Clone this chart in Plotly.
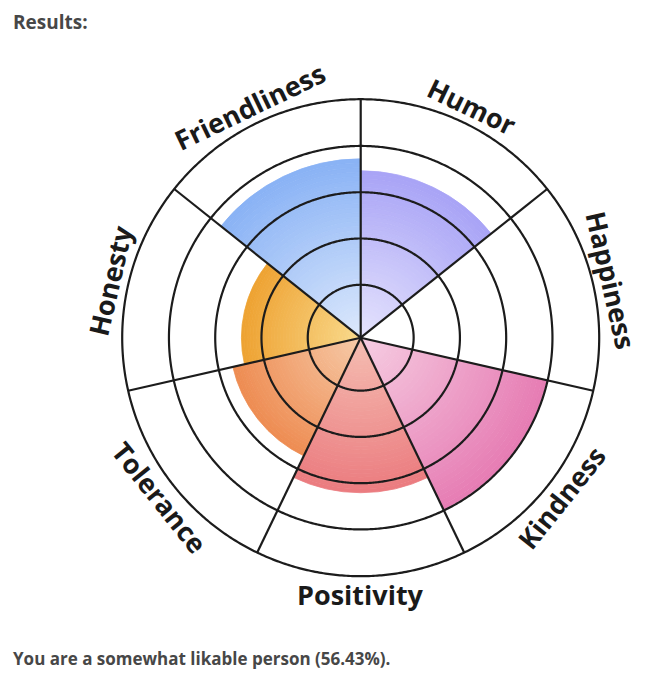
import numpy as np
import plotly.graph_objects as go

# ---------------- data ----------------
categories = ["Humor", "Happiness", "Kindness", "Positivity", "Tolerance", "Honesty", "Friendliness"]
scores = [3.5, 0.0, 4.0, 3.25, 2.75, 2.5, 3.75]
max_score = 5
title_text = "Results:"
summary_template = "You are a somewhat likable person ({:.2f}%)."

# ---------------- style ----------------
inner_colors = ["#e6e4fd", "#f7e9a8", "#f6cde2", "#f5beb2", "#f6caa8", "#f9da8c", "#dde9fc"]
outer_colors = ["#a8a3f6", "#f0d060", "#e67cb3", "#eb7b7f", "#ee8c52", "#eea232", "#89b2f5"]
label_angles = [25.7, 77.1, -51.4, 0.0, 51.4, -77.1, -25.7]
grid_rings = [1.11, 2.08, 3.05, 4.02, 5.0]
grid_color = "#1c1c1c"
grid_width = 2.2

OFF = 8                      # default page body margin
W, H = 670 - OFF, 680 - OFF
CX, CY, RAD = 360.7 - OFF, 337.7 - OFF, 238.5   # RAD = pixel radius of max_score
R_PAD = 1.03                 # extra radial room so the outer ring is not clipped
LABEL_R = 257
N_SLICES = 40
TEXT_X = 11


def hex2rgb(h):
    h = h.lstrip("#")
    return np.array([int(h[i:i + 2], 16) for i in (0, 2, 4)], dtype=float)


def mix(c1, c2, t):
    a, b = hex2rgb(c1), hex2rgb(c2)
    c = a + (b - a) * t
    return "rgb({:.0f},{:.0f},{:.0f})".format(*c)


n = len(categories)
sector = 360.0 / n
fig = go.Figure()

# gradient bars: each bar split into thin stacked slices
for i, (cat, v) in enumerate(zip(categories, scores)):
    if v <= 0:
        continue
    step = v / N_SLICES
    bases = [step * k for k in range(N_SLICES)]
    cols = [mix(inner_colors[i], outer_colors[i], (k + 0.5) / N_SLICES) for k in range(N_SLICES)]
    fig.add_trace(go.Barpolar(
        r=[step] * N_SLICES,
        base=bases,
        theta=[sector * (i + 0.5)] * N_SLICES,
        width=[sector] * N_SLICES,
        marker=dict(color=cols, line=dict(color=cols, width=0.8)),
        name=cat,
        hoverinfo="skip",
        showlegend=False,
    ))

# grid overlay (drawn above bars)
circle_theta = np.linspace(0, 360, 721)
for rr in grid_rings:
    fig.add_trace(go.Scatterpolar(
        r=[rr] * len(circle_theta), theta=circle_theta, mode="lines",
        line=dict(color=grid_color, width=grid_width),
        hoverinfo="skip", showlegend=False,
    ))
for k in range(n):
    fig.add_trace(go.Scatterpolar(
        r=[0, max_score], theta=[sector * k, sector * k], mode="lines",
        line=dict(color=grid_color, width=grid_width),
        hoverinfo="skip", showlegend=False,
    ))

# category labels placed tangentially around the circle
annotations = []
for i, cat in enumerate(categories):
    ang = np.deg2rad(sector * (i + 0.5))
    px = CX + LABEL_R * np.sin(ang)
    py = CY - LABEL_R * np.cos(ang)
    annotations.append(dict(
        x=px / W, y=1 - py / H, xref="paper", yref="paper",
        text=cat, showarrow=False, textangle=label_angles[i],
        xanchor="center", yanchor="middle",
        font=dict(family="Open Sans", size=27, color="#1a1a1a", weight=700),
    ))

annotations.append(dict(
    x=(TEXT_X - OFF) / W, y=1 - (22 - OFF) / H, xref="paper", yref="paper", text=title_text,
    showarrow=False, xanchor="left", yanchor="middle",
    font=dict(family="Open Sans", size=19, color="#474747", weight=700),
))
pct = sum(scores) / (max_score * n) * 100
annotations.append(dict(
    x=(TEXT_X - OFF) / W, y=1 - (658 - OFF) / H, xref="paper", yref="paper",
    text=summary_template.format(pct),
    showarrow=False, xanchor="left", yanchor="middle",
    font=dict(family="Open Sans", size=17, color="#474747", weight=700),
))

DR = RAD * R_PAD
fig.update_layout(
    width=W, height=H,
    margin=dict(l=0, r=0, t=0, b=0),
    paper_bgcolor="white",
    plot_bgcolor="white",
    showlegend=False,
    annotations=annotations,
    barmode="overlay",
    polar=dict(
        domain=dict(x=[(CX - DR) / W, (CX + DR) / W], y=[1 - (CY + DR) / H, 1 - (CY - DR) / H]),
        bgcolor="white",
        radialaxis=dict(range=[0, max_score * R_PAD], visible=False, showgrid=False, showline=False,
                        showticklabels=False, ticks=""),
        angularaxis=dict(rotation=90, direction="clockwise", showgrid=False, showline=False,
                         showticklabels=False, ticks="", type="linear", thetaunit="degrees"),
    ),
)

fig.write_html("out.html")
